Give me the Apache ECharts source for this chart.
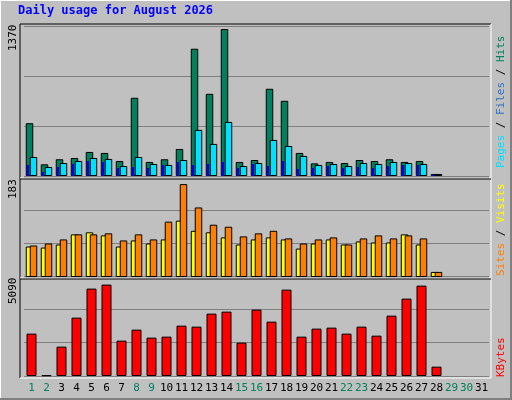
<!DOCTYPE html>
<html><head><meta charset="utf-8">
<script src="https://cdn.jsdelivr.net/npm/echarts@6/dist/echarts.min.js"></script>
<style>html,body{margin:0;padding:0;background:#c0c0c0}#c{width:512px;height:400px}</style>
</head><body><div id="c"></div>
<script>
const days = Array.from({length:31},(_,i)=>String(i+1));
const weekend = ['1','2','8','9','15','16','22','23','29','30'];
const hits   = [492,109,156,168,224,215,140,729,131,156,252,1186,766,1370,131,149,813,701,215,118,131,121,149,140,156,131,140,19];
const files  = [177,84,121,140,168,159,93,177,112,103,149,430,299,504,93,121,336,280,187,103,112,93,121,112,131,121,112,19];
const pages  = [103,37,84,112,140,131,75,84,75,103,131,103,112,131,75,112,93,140,65,75,93,75,84,75,93,103,103,12];
const visits = [60,58,64,84,88,82,60,72,66,74,111,91,88,78,64,74,78,74,56,66,74,64,70,68,68,84,64,10];
const sites  = [62,66,74,84,84,86,72,84,74,109,183,137,103,99,80,86,91,76,66,74,78,64,76,82,76,82,76,10];
const kbytes = [2360,40,1635,3251,4867,5090,1969,2582,2136,2192,2805,2749,3474,3585,1858,3697,3028,4811,2192,2638,2694,2360,2749,2248,3362,4310,5034,520];
const maxLabels = ['1370','183','5090'];

const F = 'DejaVu Sans Mono';
const L = 24, W = 465;
const grids = [
  {left:L, top:26, width:W, height:150},
  {left:L-3.5, top:26, width:W, height:150},
  {left:L, top:177, width:W, height:100},
  {left:L, top:276, width:W, height:100}
];
const xA = (g, show) => ({type:'category', gridIndex:g, data:days, boundaryGap:true,
  axisLine:{show:false}, axisTick:{show:false},
  axisLabel:{show:show, interval:0, margin:7, fontFamily:F, fontSize:11,
    formatter:v => weekend.includes(v) ? '{w|'+v+'}' : '{n|'+v+'}',
    rich:{w:{color:'#00805c',fontFamily:F,fontSize:11}, n:{color:'#000',fontFamily:F,fontSize:11}}}});
const yA = (g, max, split) => ({type:'value', gridIndex:g, min:0, max:max, interval:max/3,
  axisLabel:{show:false}, axisLine:{show:false}, axisTick:{show:false},
  splitLine:{show:split, lineStyle:{color:'#808080', width:1}}});
const bs = (c) => ({color:c, borderColor:'#000', borderWidth:1});

const chart = echarts.init(document.getElementById('c'), null, {renderer:'canvas'});
chart.setOption({
  backgroundColor:'#c0c0c0', animation:false,
  grid: grids,
  xAxis:[xA(0,false), xA(1,false), xA(2,false), xA(3,true)],
  yAxis:[yA(0,1398,true), yA(1,1398,false), yA(2,197,true), yA(3,5570,true)],
  series:[
    {type:'bar', xAxisIndex:0, yAxisIndex:0, data:hits, barWidth:7.5, barGap:'-47%', itemStyle:bs('#00805c')},
    {type:'bar', xAxisIndex:0, yAxisIndex:0, data:files, barWidth:7.5, barGap:'-47%', itemStyle:bs('#00e0ff')},
    {type:'bar', xAxisIndex:1, yAxisIndex:1, data:pages, barWidth:2, itemStyle:{color:'#0000ff'}, z:3},
    {type:'bar', xAxisIndex:2, yAxisIndex:2, data:visits, barWidth:7.5, barGap:'-47%', itemStyle:bs('#ffff00')},
    {type:'bar', xAxisIndex:2, yAxisIndex:2, data:sites, barWidth:7.5, barGap:'-47%', itemStyle:bs('#ff8000')},
    {type:'bar', xAxisIndex:3, yAxisIndex:3, data:kbytes, barWidth:10, itemStyle:bs('#ff0000')}
  ],
  graphic:[
    {type:'rect', shape:{x:0.5,y:0.5,width:510,height:398}, style:{fill:'none', stroke:'#fff', lineWidth:1}, silent:true},
    {type:'polyline', shape:{points:[[511,0],[511,399],[0,399]]}, style:{fill:'none', stroke:'#808080', lineWidth:2}, silent:true},
    {type:'polyline', shape:{points:[[20,378],[20,24],[491,24]]}, style:{fill:'none', stroke:'#000', lineWidth:1}, silent:true, z:10},
    {type:'polyline', shape:{points:[[491,24],[491,378],[20,378]]}, style:{fill:'none', stroke:'#fff', lineWidth:1}, silent:true, z:10},
    {type:'line', shape:{x1:20,y1:178,x2:491,y2:178}, style:{stroke:'#fff'}, silent:true, z:10},
    {type:'line', shape:{x1:20,y1:179,x2:491,y2:179}, style:{stroke:'#000'}, silent:true, z:10},
    {type:'line', shape:{x1:20,y1:278,x2:491,y2:278}, style:{stroke:'#fff'}, silent:true, z:10},
    {type:'line', shape:{x1:20,y1:279,x2:491,y2:279}, style:{stroke:'#000'}, silent:true, z:10},
    {type:'text', left:18, top:5, style:{text:'Daily usage for August 2026', fill:'#0000ff', font:'bold 12px "DejaVu Sans Mono"'}},
    {type:'text', x:8, y:51, rotation:Math.PI/2, style:{text:maxLabels[0], fill:'#000', font:'11px "DejaVu Sans Mono"'}},
    {type:'text', x:8, y:199, rotation:Math.PI/2, style:{text:maxLabels[1], fill:'#000', font:'11px "DejaVu Sans Mono"'}},
    {type:'text', x:8, y:304, rotation:Math.PI/2, style:{text:maxLabels[2], fill:'#000', font:'11px "DejaVu Sans Mono"'}},
    {type:'text', x:496, y:168, rotation:Math.PI/2, style:{
      text:'{p|Pages}{s| / }{f|Files}{s| / }{h|Hits}', font:'11px "DejaVu Sans Mono"',
      rich:{p:{fill:'#00e0ff',font:'11px "DejaVu Sans Mono"'}, s:{fill:'#000',font:'11px "DejaVu Sans Mono"'},
            f:{fill:'#3070c0',font:'11px "DejaVu Sans Mono"'}, h:{fill:'#00805c',font:'11px "DejaVu Sans Mono"'}}}},
    {type:'text', x:496, y:276, rotation:Math.PI/2, style:{
      text:'{a|Sites}{s| / }{b|Visits}', font:'11px "DejaVu Sans Mono"',
      rich:{a:{fill:'#ff8000',font:'11px "DejaVu Sans Mono"'}, s:{fill:'#000',font:'11px "DejaVu Sans Mono"'},
            b:{fill:'#ffff00',font:'11px "DejaVu Sans Mono"'}}}},
    {type:'text', x:496, y:377, rotation:Math.PI/2, style:{text:'KBytes', fill:'#ff0000', font:'11px "DejaVu Sans Mono"'}}
  ]
});
</script></body></html>
